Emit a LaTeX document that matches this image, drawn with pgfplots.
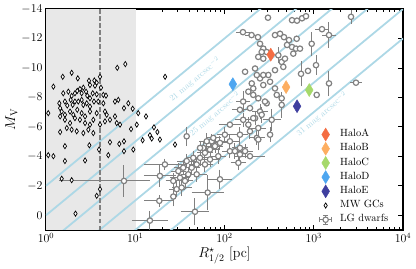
\documentclass[border=0pt]{standalone}
\usepackage{pgfplots}
\pgfplotsset{compat=1.18}
\usepackage{pgfplotstable}
\definecolor{sbline}{HTML}{ADD8E6}
\definecolor{shade}{HTML}{E8E8E8}
\definecolor{dgray}{HTML}{808080}
\definecolor{haloA}{HTML}{F46D43}
\definecolor{haloB}{HTML}{FDAE61}
\definecolor{haloC}{HTML}{A6D96A}
\definecolor{haloD}{HTML}{4DA6F0}
\definecolor{haloE}{HTML}{3F3F9F}

\pgfdeclareplotmark{errcirc}{%
  \pgfpathmoveto{\pgfqpoint{-6bp}{0bp}}\pgfpathlineto{\pgfqpoint{6bp}{0bp}}%
  \pgfpathmoveto{\pgfqpoint{0bp}{-4.5bp}}\pgfpathlineto{\pgfqpoint{0bp}{4.5bp}}%
  \pgfpathmoveto{\pgfqpoint{-6bp}{-2.5bp}}\pgfpathlineto{\pgfqpoint{-6bp}{2.5bp}}%
  \pgfpathmoveto{\pgfqpoint{6bp}{-2.5bp}}\pgfpathlineto{\pgfqpoint{6bp}{2.5bp}}%
  \pgfpathmoveto{\pgfqpoint{-2.5bp}{-4.5bp}}\pgfpathlineto{\pgfqpoint{2.5bp}{-4.5bp}}%
  \pgfpathmoveto{\pgfqpoint{-2.5bp}{4.5bp}}\pgfpathlineto{\pgfqpoint{2.5bp}{4.5bp}}%
  \pgfusepathqstroke
  \pgfpathcircle{\pgfpointorigin}{2.7bp}%
  \pgfusepathqfillstroke
}

\pgfplotstableread{
R M
1.54 -9.40
1.94 -9.67
2.27 -9.29
3.03 -9.13
3.48 -9.15
3.70 -9.00
4.03 -9.40
4.13 -8.66
3.54 -8.79
3.11 -8.84
1.21 -8.73
1.56 -8.28
1.78 -8.39
1.94 -8.10
2.11 -8.28
2.24 -8.44
2.40 -8.57
2.51 -8.28
2.62 -8.66
2.81 -8.39
2.90 -8.12
3.11 -7.94
3.34 -8.28
3.70 -8.21
4.39 -8.17
4.70 -8.12
1.41 -7.60
1.63 -7.72
1.73 -7.45
1.89 -7.83
1.99 -7.49
2.11 -7.72
2.30 -7.72
2.51 -7.83
2.62 -7.49
2.86 -7.60
3.11 -7.38
3.45 -7.72
3.85 -7.72
4.39 -7.60
1.44 -7.27
1.50 -7.04
1.63 -6.82
1.86 -7.04
2.02 -6.82
2.24 -7.16
2.51 -6.93
2.74 -6.71
3.11 -7.04
3.70 -6.93
4.58 -7.04
4.79 -6.82
1.06 -6.93
1.44 -6.71
1.63 -6.48
1.86 -6.26
2.11 -6.59
2.40 -6.48
2.74 -6.26
3.11 -6.15
3.39 -6.48
4.03 -6.15
4.58 -6.37
5.21 -6.48
5.93 -6.71
6.20 -6.26
6.75 -6.15
1.71 -5.92
1.94 -5.81
2.21 -5.70
2.62 -5.58
2.98 -5.81
3.39 -5.58
6.29 -10.01
7.74 -10.26
6.46 -7.83
5.93 -7.72
8.36 -7.60
7.48 -7.27
9.36 -7.23
1.44 -5.65
3.93 -4.46
5.21 -4.96
6.63 -4.84
7.48 -5.02
7.48 -4.35
9.51 -4.46
4.99 -4.08
1.63 -4.69
3.06 -4.75
1.06 -4.08
1.21 -4.01
1.63 -3.68
2.74 -3.72
1.50 -2.48
1.94 -2.38
4.03 -1.77
3.70 -1.32
2.14 -0.11
21.6 -9.40
13.2 -6.71
16.2 -5.97
17.7 -5.65
14.6 -5.43
15.3 -5.21
18.9 -5.14
12.1 -5.09
27.9 -4.80
10.8 -6.93
10.4 -6.15
8.97 -5.85
}\gcs

\pgfplotstableread{
R M xp xm ey
307 -13.41 0 0 0
571 -13.24 0 0 0
649 -13.21 0 0 0
739 -13.37 0 0 0
819 -13.51 0 0 0
2615 -13.47 0 0 0.27
161 -12.43 0.11 0.10 0
201 -12.23 0.11 0.10 0
237 -12.09 0 0 0
250 -11.64 0 0 0
272 -11.31 0 0 0
297 -11.08 0 0 0
261 -11.08 0 0 0
239 -10.75 0 0 0
272 -10.63 0 0 0
368 -12.23 0 0 0
419 -12.32 0 0 0
464 -12.09 0 0 0
528 -11.89 0 0 0
502 -11.56 0 0 0
571 -11.42 0 0 0
633 -11.31 0 0 0
644 -11.98 0 0 0
948 -11.64 0 0 0.61
1237 -12.63 0.11 0.10 0
1482 -12.23 0.11 0.10 0.67
1060 -10.19 0 0 0.47
720 -9.60 0 0 0.67
1482 -8.95 0 0 0.67
2974 -9.00 0.08 0.07 0
1079 -8.17 0 0 0
862 -9.80 0 0 0
401 -10.86 0 0 0.34
437 -10.41 0 0 0
476 -10.63 0 0 0
701 -11.31 0 0 0
590 -10.97 0 0 0
456 -10.07 0 0 0
368 -9.85 0 0 0
310 -9.52 0 0 0
250 -9.29 0 0 0
230 -9.52 0 0 0
272 -8.84 0 0 0
324 -9.06 0 0 0
368 -8.61 0 0 0
385 -8.17 0 0 0
437 -7.94 0 0 0
437 -7.49 0 0 0.67
210 -8.61 0 0 0
239 -7.94 0 0 0
297 -7.60 0 0 0
338 -6.48 0.17 0.14 0.54
250 -7.04 0.14 0.12 0.30
220 -6.59 0 0 0.30
230 -5.25 0.14 0.12 0.30
170 -9.74 0 0 0
220 -9.96 0 0 0
272 -9.52 0 0 0
202 -8.95 0 0 0
185 -8.39 0 0 0
210 -8.17 0 0 0
284 -7.72 0 0 0
162 -7.72 0.11 0.10 0.54
149 -7.16 0.14 0.12 0
193 -7.27 0 0 0
261 -6.82 0 0 0.34
162 -6.48 0.14 0.12 0.30
185 -6.15 0 0 0.30
115 -6.15 0.23 0.19 0
239 -5.92 0.14 0.12 0
149 -5.47 0.14 0.12 0.30
210 -6.59 0 0 0
193 -5.70 0 0 0.30
115 -5.02 0.20 0.16 0.30
71.9 -5.02 0.14 0.12 0.30
57.9 -4.57 0 0 0.30
37.7 -5.36 0 0 0.47
149 -4.57 0.14 0.12 0.30
14.6 0.36 0.47 0.32 0.47
46.7 -0.24 0.33 0.25 0.74
64.8 -1.54 0.40 0.29 1.01
18.6 -0.98 0.36 0.27 0.20
26.7 -1.27 0 0 0.47
18.9 -2.67 0.40 0.29 0.54
89.0 -2.44 0.26 0.21 0.47
21.5 -3.45 0.59 0.37 0.20
29.1 -1.77 0.14 0.12 0.34
33.1 -1.88 0.20 0.16 0.40
36.1 -2.33 0.14 0.12 0.34
31.7 -2.55 0.20 0.16 0.40
26.7 -2.33 0.14 0.12 0.34
39.3 -2.78 0.14 0.12 0.30
30.4 -3.00 0.14 0.12 0.34
34.5 -3.23 0.20 0.16 0.30
42.9 -3.23 0.14 0.12 0.34
48.8 -3.45 0.14 0.12 0.30
53.2 -3.90 0.14 0.12 0.34
60.4 -4.24 0.14 0.12 0.30
68.8 -4.46 0.14 0.12 0.34
78.3 -4.69 0.14 0.12 0.30
68.8 -3.79 0.20 0.16 0.30
60.4 -3.45 0.14 0.12 0.34
37.7 -3.68 0.20 0.16 0.30
44.7 -3.90 0.14 0.12 0.30
53.2 -4.57 0 0 0.30
63.2 -5.02 0.14 0.12 0.34
74.9 -5.25 0.14 0.12 0
101 -5.47 0.14 0.12 0.30
115 -4.35 0.14 0.12 0.30
131 -4.35 0.14 0.12 0.34
149 -4.13 0 0 0.30
170 -4.35 0.14 0.12 0.30
193 -4.01 0.36 0.27 0
143 -3.56 0.14 0.12 0.30
239 -5.14 0 0 0.54
89.0 -4.91 0.14 0.12 0.30
85.2 -4.01 0.14 0.12 0.34
324 -5.47 0 0 0.30
48.8 -2.78 0.20 0.16 0.30
7.48 -2.33 0.81 0.80 0.88
}\dwarfs

\begin{document}
\begin{tikzpicture}
\begin{axis}[
  scale only axis, width=357bp, height=221bp,
  xmode=log, xmin=1, xmax=10000,
  ymin=-14, ymax=1, y dir=reverse,
  ytick={-14,-12,-10,-8,-6,-4,-2,0},
  tick align=inside,
  major tick length=5bp, minor tick length=2.8bp,
  tick style={black, line width=0.8bp},
  axis line style={line width=1.1bp},
  tick label style={font=\fontsize{11.5}{13}\selectfont},
  label style={font=\fontsize{14}{16}\selectfont},
  xlabel={$R^{\star}_{1/2}$ [pc]},
  ylabel={$M_{\mathrm{V}}$},
  xlabel style={at={(axis description cs:0.5,-0.115)}, anchor=center},
  ylabel style={at={(axis description cs:-0.097,0.5)}, anchor=center},
  legend cell align=left,
  legend style={draw=none, fill=none, at={(axis description cs:0.766,0.465)}, anchor=north west,
    font=\fontsize{10.5}{12}\selectfont, inner sep=0pt, row sep=0pt, column sep=8bp,
    nodes={inner sep=0.5bp, text height=8.8bp, text depth=4.4bp}},
]
\addlegendimage{only marks, mark=diamond*, mark size=6.5bp, color=haloA, mark options={xscale=0.8}}
\addlegendentry{HaloA}
\addlegendimage{only marks, mark=diamond*, mark size=6.5bp, color=haloB, mark options={xscale=0.8}}
\addlegendentry{HaloB}
\addlegendimage{only marks, mark=diamond*, mark size=6.5bp, color=haloC, mark options={xscale=0.8}}
\addlegendentry{HaloC}
\addlegendimage{only marks, mark=diamond*, mark size=6.5bp, color=haloD, mark options={xscale=0.8}}
\addlegendentry{HaloD}
\addlegendimage{only marks, mark=diamond*, mark size=6.5bp, color=haloE, mark options={xscale=0.8}}
\addlegendentry{HaloE}
\addlegendimage{only marks, mark=diamond*, mark size=2.6bp, mark options={draw=black, fill=white, line width=0.7bp, xscale=0.85}}
\addlegendentry{MW GCs}
\addlegendimage{only marks, mark=errcirc, mark options={draw=dgray, fill=white, line width=1.1bp}}
\addlegendentry{LG dwarfs}

% shaded region
\addplot[fill=shade, draw=none, forget plot] coordinates {(1,-14) (10.2,-14) (10.2,1) (1,1)} -- cycle;
% surface brightness lines (21, 23, ..., 31 mag arcsec^-2)
\addplot[sbline, line width=1.8bp, forget plot] coordinates {(1,-2) (10000,-22)};
\addplot[sbline, line width=1.8bp, forget plot] coordinates {(1,0) (10000,-20)};
\addplot[sbline, line width=1.8bp, forget plot] coordinates {(1,2) (10000,-18)};
\addplot[sbline, line width=1.8bp, forget plot] coordinates {(1,4) (10000,-16)};
\addplot[sbline, line width=1.8bp, forget plot] coordinates {(1,6) (10000,-14)};
\addplot[sbline, line width=1.8bp, forget plot] coordinates {(1,8) (10000,-12)};
% dashed vertical line
\addplot[dgray, line width=2bp, dash pattern=on 4.5bp off 2.5bp, forget plot] coordinates {(4,-14) (4,1)};

\node[rotate=39.8, text=sbline, font=\fontsize{8.5}{10}\selectfont] at (axis cs:46.7,-9.2) {21 mag arcsec$^{-2}$};
\node[rotate=39.8, text=sbline, font=\fontsize{8.5}{10}\selectfont] at (axis cs:78.3,-6.84) {25 mag arcsec$^{-2}$};
\node[rotate=39.8, text=sbline, font=\fontsize{8.5}{10}\selectfont] at (axis cs:1237,-6.84) {31 mag arcsec$^{-2}$};

% MW globular clusters
\addplot[only marks, mark=diamond*, mark size=2.6bp, mark options={draw=black, fill=white, line width=0.7bp, xscale=0.85}, forget plot]
  table[x=R, y=M] {\gcs};

% Local Group dwarfs
\addplot[only marks, mark=*, mark size=2.7bp, dgray, mark options={draw=dgray, fill=white, line width=1.2bp}, forget plot,
  error bars/.cd, x dir=both, x explicit relative, y dir=both, y explicit,
  error bar style={line width=1bp, dgray}, error mark options={line width=1bp, dgray, mark size=2.8bp}]
  table[x=R, y=M, x error plus=xp, x error minus=xm, y error=ey] {\dwarfs};

% Haloes
\addplot[only marks, mark=diamond*, mark size=6.5bp, color=haloA, mark options={xscale=0.8}, forget plot] coordinates {(330,-10.9)};
\addplot[only marks, mark=diamond*, mark size=6.5bp, color=haloB, mark options={xscale=0.8}, forget plot] coordinates {(490,-8.7)};
\addplot[only marks, mark=diamond*, mark size=6.5bp, color=haloC, mark options={xscale=0.8}, forget plot] coordinates {(890,-8.5)};
\addplot[only marks, mark=diamond*, mark size=6.5bp, color=haloD, mark options={xscale=0.8}, forget plot] coordinates {(124,-8.9)};
\addplot[only marks, mark=diamond*, mark size=6.5bp, color=haloE, mark options={xscale=0.8}, forget plot] coordinates {(650,-7.4)};
\end{axis}
\pgfresetboundingbox
\path ([shift={(-46bp,-39bp)}]current axis.south west) rectangle ([shift={(13bp,9bp)}]current axis.north east);
\end{tikzpicture}
\end{document}
